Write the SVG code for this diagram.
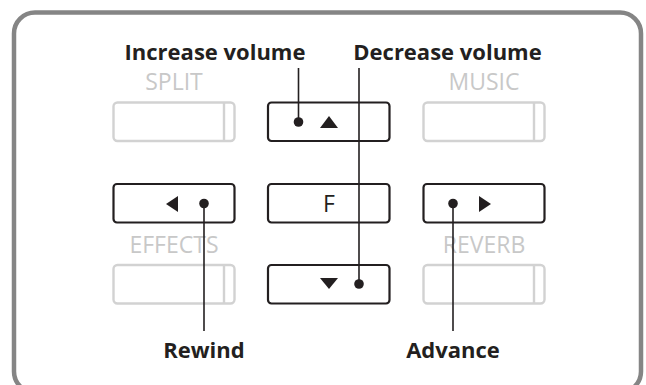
<svg xmlns="http://www.w3.org/2000/svg" width="646" height="385" viewBox="0 0 646 385">
<style>
.frame{fill:#fff;stroke:#858585;stroke-width:4.5}
.btn{fill:#fff;stroke:#231f20;stroke-width:2.2}
.gbtn{fill:#fff;stroke:#d2d2d2;stroke-width:2.4}
.gdiv{stroke:#d2d2d2;stroke-width:2.4}
.glabel{font-family:"Open Sans","Liberation Sans",sans-serif;font-size:23px;fill:#c8c8c8;text-anchor:middle}
.label{font-family:"Open Sans","Liberation Sans",sans-serif;font-weight:bold;font-size:22px;fill:#231f20;text-anchor:middle}
.key{font-family:"Open Sans","Liberation Sans",sans-serif;font-size:23px;fill:#231f20;text-anchor:middle}
.sym{fill:#231f20}
.conn line{stroke:#231f20;stroke-width:1.6}
.conn circle{fill:#231f20}
</style>
<rect class="frame" x="14" y="12.5" width="627" height="380" rx="21" ry="21"/>
<g id="split">
<text class="glabel" x="174" y="90">SPLIT</text>
<rect class="gbtn" x="113.5" y="102.5" width="121" height="38.5" rx="4"/>
<line class="gdiv" x1="224" y1="103" x2="224" y2="140.5"/>
</g>
<g id="music">
<text class="glabel" x="484" y="90">MUSIC</text>
<rect class="gbtn" x="423.5" y="102.5" width="121" height="38.5" rx="4"/>
<line class="gdiv" x1="534" y1="103" x2="534" y2="140.5"/>
</g>
<g id="effects">
<text class="glabel" x="174" y="253">EFFECTS</text>
<rect class="gbtn" x="113.5" y="265" width="121" height="38.5" rx="4"/>
<line class="gdiv" x1="224" y1="265.5" x2="224" y2="303"/>
</g>
<g id="reverb">
<text class="glabel" x="484" y="253">REVERB</text>
<rect class="gbtn" x="423.5" y="265" width="121" height="38.5" rx="4"/>
<line class="gdiv" x1="534" y1="265.5" x2="534" y2="303"/>
</g>
<g id="up">
<rect class="btn" x="268" y="102.5" width="121.5" height="38.5" rx="3.5"/>
<polygon class="sym" points="320,128 338,128 329,116"/>
</g>
<g id="left">
<rect class="btn" x="113.5" y="184" width="121" height="38.5" rx="3.5"/>
<polygon class="sym" points="178,196 178,212 166,204"/>
</g>
<g id="f">
<rect class="btn" x="268" y="184" width="121.5" height="38.5" rx="3.5"/>
<text class="key" x="329" y="212">F</text>
</g>
<g id="right">
<rect class="btn" x="423.5" y="184" width="121" height="38.5" rx="3.5"/>
<polygon class="sym" points="479,196 479,212 491,204"/>
</g>
<g id="down">
<rect class="btn" x="268" y="265" width="121.5" height="38.5" rx="3.5"/>
<polygon class="sym" points="320,278 338,278 329,289"/>
</g>
<g id="increase-label"><text class="label" x="215" y="60">Increase volume</text></g>
<g id="decrease-label"><text class="label" x="447.5" y="60">Decrease volume</text></g>
<g id="rewind-label"><text class="label" x="204" y="358">Rewind</text></g>
<g id="advance-label"><text class="label" x="453" y="358">Advance</text></g>
<g class="conn" id="connectors">
<line x1="298.5" y1="68" x2="298.5" y2="122"/>
<circle cx="298.5" cy="122" r="4.8"/>
<line x1="359" y1="68" x2="359" y2="284"/>
<circle cx="359" cy="284" r="4.8"/>
<line x1="204" y1="203.5" x2="204" y2="331"/>
<circle cx="204" cy="203.5" r="4.8"/>
<line x1="453" y1="203.5" x2="453" y2="331"/>
<circle cx="453" cy="203.5" r="4.8"/>
</g>
</svg>
